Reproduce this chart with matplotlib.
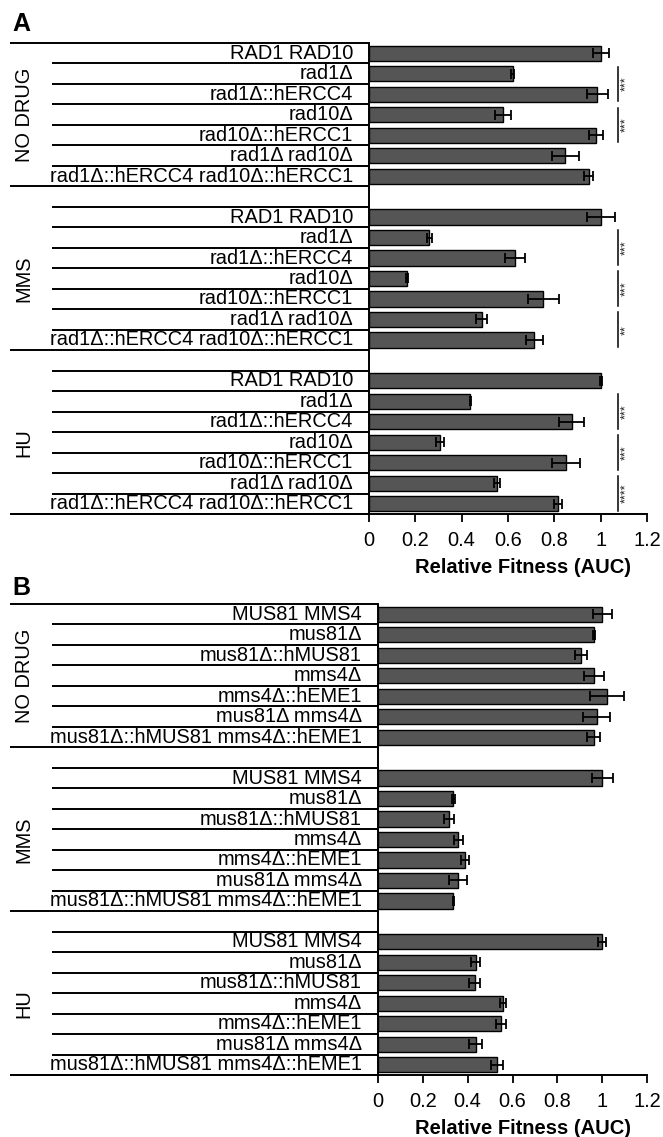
import matplotlib
matplotlib.use("Agg")
import matplotlib.pyplot as plt
from matplotlib.transforms import blended_transform_factory

plt.rcParams['font.family'] = ['Liberation Sans', 'DejaVu Sans']

groups = ["NO DRUG", "MMS", "HU"]

strains_a = ["RAD1 RAD10", "rad1Δ", "rad1Δ::hERCC4", "rad10Δ",
             "rad10Δ::hERCC1", "rad1Δ rad10Δ", "rad1Δ::hERCC4 rad10Δ::hERCC1"]
nodrug_a = [1.00, 0.62, 0.985, 0.58, 0.98, 0.848, 0.949]
nodrug_a_err = [0.035, 0.008, 0.045, 0.035, 0.03, 0.057, 0.02]
mms_a = [1.00, 0.26, 0.63, 0.163, 0.752, 0.486, 0.714]
mms_a_err = [0.06, 0.01, 0.043, 0.005, 0.067, 0.023, 0.038]
hu_a = [1.00, 0.438, 0.875, 0.306, 0.851, 0.554, 0.816]
hu_a_err = [0.005, 0.003, 0.055, 0.018, 0.06, 0.013, 0.018]

# significance: (group index, first row, second row, stars)
sig_a = [(0, 1, 2, "***"), (0, 3, 4, "***"),
         (1, 1, 2, "***"), (1, 3, 4, "***"), (1, 5, 6, "**"),
         (2, 1, 2, "***"), (2, 3, 4, "***"), (2, 5, 6, "****")]

strains_b = ["MUS81 MMS4", "mus81Δ", "mus81Δ::hMUS81", "mms4Δ",
             "mms4Δ::hEME1", "mus81Δ mms4Δ", "mus81Δ::hMUS81 mms4Δ::hEME1"]
nodrug_b = [1.00, 0.962, 0.906, 0.962, 1.022, 0.975, 0.962]
nodrug_b_err = [0.042, 0.005, 0.028, 0.045, 0.075, 0.06, 0.03]
mms_b = [1.00, 0.336, 0.318, 0.357, 0.389, 0.357, 0.336]
mms_b_err = [0.047, 0.008, 0.023, 0.02, 0.019, 0.042, 0.003]
hu_b = [1.00, 0.436, 0.432, 0.558, 0.549, 0.436, 0.53]
hu_b_err = [0.018, 0.021, 0.025, 0.014, 0.024, 0.028, 0.026]
sig_b = []

xticks = [0, 0.2, 0.4, 0.6, 0.8, 1, 1.2]
xticklabels = ["0", "0.2", "0.4", "0.6", "0.8", "1", "1.2"]

W, H = 663, 1137
fig = plt.figure(figsize=(W / 100, H / 100), dpi=100)

FS = 14.4
BAR_COLOR = "#555555"


def panel(letter, letter_y, x0, top, bottom, strains, vals, errs, sig):
    ax = fig.add_axes([x0 / W, 1 - bottom / H, (647 - x0) / W, (bottom - top) / H])
    n = len(strains)
    nslots = len(groups) * n + len(groups) - 1
    ax.set_xlim(0, 1.2)
    ax.set_ylim(nslots, 0)
    tr = blended_transform_factory(fig.transFigure, ax.transData)
    ax_left = x0 / W
    for g, name in enumerate(groups):
        start = g * (n + 1)
        ys = [start + i + 0.5 for i in range(n)]
        ax.barh(ys, vals[g], height=0.74, color=BAR_COLOR, edgecolor="black",
                linewidth=1.0, zorder=2)
        ax.errorbar(vals[g], ys, xerr=errs[g], fmt="none", ecolor="black",
                    elinewidth=1.3, capsize=3.5, capthick=1.3, zorder=3)
        for i, s in enumerate(strains):
            ax.text((x0 - 16) / W, ys[i], s, transform=tr, ha="right",
                    va="center", fontsize=FS)
        # table lines
        for b in range(n + 1):
            yb = start + b
            long_line = (b == n) or (g == 0 and b == 0)
            xs = 10 / W if long_line else 52 / W
            ax.plot([xs, ax_left], [yb, yb], transform=tr, color="black",
                    lw=1.4, clip_on=False, solid_capstyle="butt")
        fig.text(24 / W, 0, name, rotation=90, ha="center", va="center",
                 fontsize=FS, transform=tr).set_y(start + n / 2)
    for g, a, b, stars in sig:
        start = g * (n + 1)
        y1 = start + a + 0.5 - 0.35
        y2 = start + b + 0.5 + 0.35
        ax.plot([1.073, 1.073], [y1, y2], color="black", lw=1.1, clip_on=False)
        ax.text(1.108, (y1 + y2) / 2, stars, rotation=90, ha="center",
                va="center", fontsize=9, color="#222222")
    for sp in ["top", "right"]:
        ax.spines[sp].set_visible(False)
    ax.spines["left"].set_linewidth(1.4)
    ax.spines["bottom"].set_linewidth(1.4)
    ax.set_yticks([])
    ax.set_xticks(xticks)
    ax.set_xticklabels(xticklabels)
    ax.tick_params(axis="x", labelsize=FS, length=6, width=1.3, pad=6)
    fig.text(523 / W, 1 - (bottom + 54) / H, "Relative Fitness (AUC)",
             ha="center", va="center", fontsize=14.5, fontweight="bold")
    fig.text(12 / W, 1 - letter_y / H, letter, ha="left", va="center",
             fontsize=18, fontweight="bold")
    ax.plot([10 / W, ax_left], [nslots, nslots], transform=tr, color="black",
            lw=1.4, clip_on=False, solid_capstyle="butt")
    return ax


panel("A", 24, 369, 43, 514, strains_a,
      [nodrug_a, mms_a, hu_a], [nodrug_a_err, mms_a_err, hu_a_err], sig_a)
panel("B", 588, 378, 604, 1075, strains_b,
      [nodrug_b, mms_b, hu_b], [nodrug_b_err, mms_b_err, hu_b_err], sig_b)

fig.savefig("out.png", dpi=100)
